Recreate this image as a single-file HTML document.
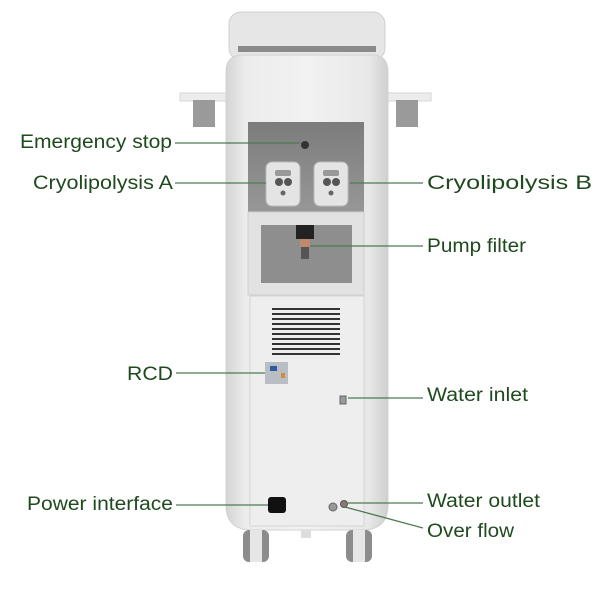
<!DOCTYPE html>
<html><head><style>html,body{margin:0;padding:0;background:#fff}</style></head>
<body>
<svg width="608" height="585" viewBox="0 0 608 585" xmlns="http://www.w3.org/2000/svg" font-family="Liberation Sans, sans-serif">
<defs>
<linearGradient id="body" x1="0" x2="1" y1="0" y2="0">
<stop offset="0" stop-color="#d4d4d4"/><stop offset="0.12" stop-color="#ececec"/><stop offset="0.5" stop-color="#f2f2f2"/><stop offset="0.88" stop-color="#e8e8e8"/><stop offset="1" stop-color="#cfcfcf"/></linearGradient>
<linearGradient id="dark" x1="0" x2="0" y1="0" y2="1"><stop offset="0" stop-color="#7c7c7c"/><stop offset="1" stop-color="#979797"/></linearGradient>
</defs>
<!-- head -->
<rect x="229" y="12" width="156" height="48" rx="12" fill="#e6e6e6" stroke="#d0d0d0"/>
<rect x="238" y="46" width="138" height="6" fill="#8a8a8a"/>
<!-- handles -->
<rect x="180" y="93" width="48" height="8" fill="#ececec" stroke="#d6d6d6"/>
<rect x="193" y="100" width="22" height="27" fill="#9a9a9a"/>
<rect x="386" y="93" width="45" height="8" fill="#ececec" stroke="#d6d6d6"/>
<rect x="396" y="100" width="22" height="27" fill="#9a9a9a"/>
<!-- body -->
<path d="M226 72 Q226 55 243 55 L372 55 Q388 55 388 72 L388 505 Q388 530 362 530 L252 530 Q226 530 226 505 Z" fill="url(#body)" stroke="#d2d2d2"/>
<!-- upper dark panel -->
<rect x="248" y="122" width="116" height="90" fill="url(#dark)"/>
<circle cx="305" cy="145" r="4" fill="#333"/>
<g>
<rect x="266" y="162" width="34" height="44" rx="6" fill="#e4e4e4" stroke="#bbb"/>
<circle cx="279" cy="182" r="4" fill="#555"/><circle cx="288" cy="182" r="4" fill="#555"/>
<rect x="275" y="170" width="16" height="6" rx="2" fill="#999"/>
<circle cx="283" cy="193" r="2.5" fill="#666"/>
<rect x="314" y="162" width="34" height="44" rx="6" fill="#e4e4e4" stroke="#bbb"/>
<circle cx="327" cy="182" r="4" fill="#555"/><circle cx="336" cy="182" r="4" fill="#555"/>
<rect x="323" y="170" width="16" height="6" rx="2" fill="#999"/>
<circle cx="331" cy="193" r="2.5" fill="#666"/>
</g>
<!-- pump panel -->
<rect x="248" y="212" width="116" height="83" fill="#e2e2e2" stroke="#cfcfcf"/>
<rect x="261" y="225" width="91" height="58" fill="#8e8e8e"/>
<rect x="296" y="225" width="18" height="14" fill="#222"/>
<rect x="300" y="239" width="10" height="8" fill="#c08a6a"/>
<rect x="301" y="247" width="8" height="12" fill="#555"/>
<!-- lower panel -->
<rect x="250" y="296" width="114" height="230" fill="#eeeeee" stroke="#d4d4d4"/>
<g fill="#333">
<rect x="272" y="308" width="68" height="2"/><rect x="272" y="313" width="68" height="2"/><rect x="272" y="318" width="68" height="2"/><rect x="272" y="323" width="68" height="2"/><rect x="272" y="328" width="68" height="2"/><rect x="272" y="333" width="68" height="2"/><rect x="272" y="338" width="68" height="2"/><rect x="272" y="343" width="68" height="2"/><rect x="272" y="348" width="68" height="2"/><rect x="272" y="353" width="68" height="2"/>
</g>
<rect x="265" y="362" width="23" height="22" fill="#b9bec4"/>
<rect x="270" y="366" width="7" height="5" fill="#2f5aa0"/>
<rect x="281" y="373" width="4" height="5" fill="#d88a3a"/>
<rect x="340" y="396" width="6" height="8" fill="#999" stroke="#666"/>
<rect x="268" y="497" width="18" height="16" rx="3" fill="#111"/>
<circle cx="333" cy="507" r="4" fill="#999" stroke="#666"/>
<circle cx="344" cy="504" r="3.5" fill="#8a7a70" stroke="#555"/>
<rect x="301" y="530" width="10" height="8" fill="#ddd"/>
<!-- wheels -->
<rect x="243" y="530" width="26" height="32" rx="6" fill="#8c8c8c"/>
<rect x="250" y="530" width="12" height="32" fill="#e6e6e6"/>
<rect x="346" y="530" width="26" height="32" rx="6" fill="#8c8c8c"/>
<rect x="353" y="530" width="12" height="32" fill="#e6e6e6"/>
<!-- leader lines -->
<g stroke="#4f7a55" stroke-width="1.3" fill="none">
<line x1="175" y1="143" x2="300" y2="143"/>
<line x1="175" y1="183" x2="266" y2="183"/>
<line x1="350" y1="183" x2="423" y2="183"/>
<line x1="310" y1="246" x2="423" y2="246"/>
<line x1="176" y1="373" x2="265" y2="373"/>
<line x1="348" y1="398" x2="423" y2="398"/>
<line x1="176" y1="505" x2="268" y2="505"/>
<line x1="348" y1="503" x2="423" y2="503"/>
<line x1="345" y1="507" x2="423" y2="528"/>
</g>
<g fill="#1e4a1e" font-size="19">
<text x="20" y="148" textLength="152" lengthAdjust="spacingAndGlyphs">Emergency stop</text>
<text x="33" y="189" textLength="140" lengthAdjust="spacingAndGlyphs">Cryolipolysis A</text>
<text x="427" y="189" textLength="165" lengthAdjust="spacingAndGlyphs">Cryolipolysis B</text>
<text x="427" y="252" textLength="99" lengthAdjust="spacingAndGlyphs">Pump filter</text>
<text x="127" y="380" textLength="46" lengthAdjust="spacingAndGlyphs">RCD</text>
<text x="427" y="401" textLength="101" lengthAdjust="spacingAndGlyphs">Water inlet</text>
<text x="27" y="510" textLength="146" lengthAdjust="spacingAndGlyphs">Power interface</text>
<text x="427" y="507" textLength="113" lengthAdjust="spacingAndGlyphs">Water outlet</text>
<text x="427" y="537" textLength="87" lengthAdjust="spacingAndGlyphs">Over flow</text>
</g>
</svg>
</body></html>
